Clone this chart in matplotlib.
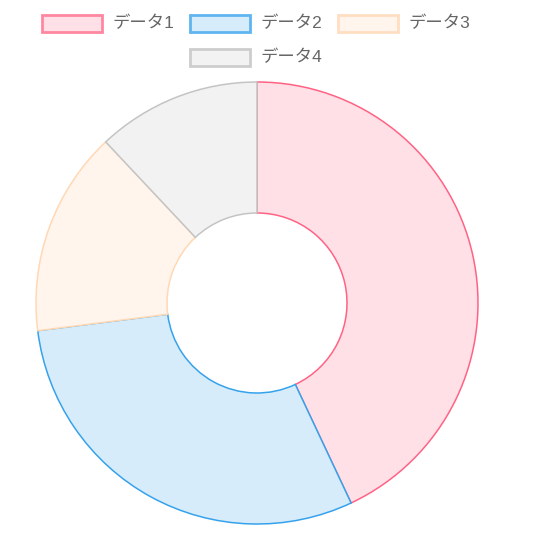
import matplotlib.pyplot as plt
from matplotlib.patches import Rectangle

plt.rcParams['font.family'] = ['Liberation Sans', 'Noto Sans CJK JP', 'DejaVu Sans']

# data
labels = ['データ1', 'データ2', 'データ3', 'データ4']
values = [43, 30, 15, 12]
fill_colors = ['#FFE0E6', '#D7ECFB', '#FFF5EC', '#F2F2F2']
edge_colors = ['#FF6384', '#36A2EB', '#FFD8B5', '#C4C4C4']
legend_edges = ['#FF87A0', '#5EB5EF', '#FFDEC2', '#CDCDCD']

W, H = 546, 552
fig = plt.figure(figsize=(W / 100, H / 100), dpi=100)
ax = fig.add_axes([0, 0, 1, 1])
ax.set_xlim(0, W)
ax.set_ylim(0, H)
ax.set_aspect('equal')
ax.axis('off')

# doughnut, positions in pixel units (y measured from the bottom)
cx, cy = 257, H - 303
r_out, r_in = 221, 90
wedges, _ = ax.pie(values, center=(cx, cy), radius=r_out, startangle=90,
                   counterclock=False, colors=fill_colors,
                   wedgeprops=dict(width=r_out - r_in, linewidth=1.1))
for w, ec in zip(wedges, edge_colors):
    w.set_edgecolor(ec)
ax.set_xlim(0, W)
ax.set_ylim(0, H)

# legend, drawn by hand like Chart.js
legend_pos = [(42, 23), (190, 23), (338, 23), (190, 57)]
for (x, y), lab, fc, ec in zip(legend_pos, labels, fill_colors, legend_edges):
    ax.add_patch(Rectangle((x, H - y - 8.5), 60, 17, facecolor=fc,
                           edgecolor=ec, linewidth=2))
    ax.text(x + 70, H - y, lab, fontsize=12.5, color='#666666',
            va='center', ha='left')

fig.savefig('out.png', dpi=100)
